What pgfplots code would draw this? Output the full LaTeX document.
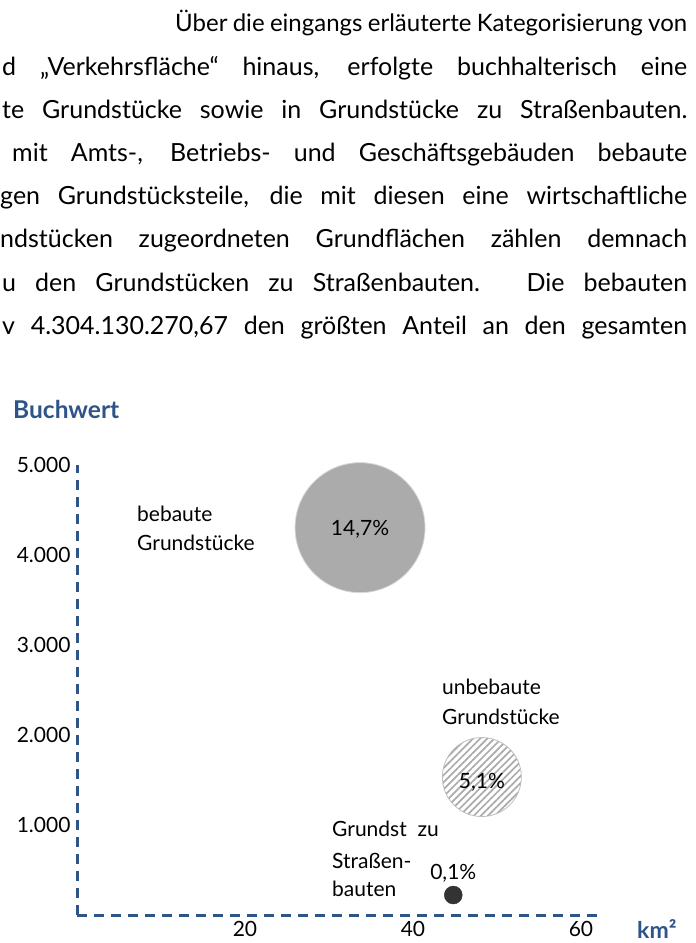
\documentclass[border=0pt]{standalone}
\usepackage{fontspec}
\setmainfont{Lato}
\usepackage{pgfplots}
\pgfplotsset{compat=1.18}
\usetikzlibrary{patterns.meta}
\definecolor{axblue}{HTML}{2E5488}
\definecolor{bubgray}{HTML}{ABABAB}
\definecolor{dotgray}{HTML}{333333}
\newcommand{\txt}{\fontsize{21}{24}\selectfont}
\newcommand{\body}{\fontsize{25}{29}\selectfont}

\begin{document}
\begin{tikzpicture}[x=1pt,y=1pt]
\useasboundingbox (0,0) rectangle (696,943);
% cropped paragraph above the chart
\begin{scope}
\clip (0,0) rectangle (696,943);
\tikzset{para/.style={anchor=base west, inner sep=0pt, font=\body}}
\node[para, font=\fontsize{24}{28}\selectfont] at (175,911) {\makebox[512pt][s]{Über die eingangs erläuterte Kategorisierung von}};
\node[para] at (2,867.8)   {\makebox[685pt][s]{d „Verkehrsfläche“ hinaus, erfolgte buchhalterisch eine}};
\node[para] at (2,824.6)   {\makebox[685pt][s]{te Grundstücke sowie in Grundstücke zu Straßenbauten.}};
\node[para] at (12,781.4)  {\makebox[675pt][s]{mit Amts-, Betriebs- und Geschäftsgebäuden bebaute}};
\node[para] at (0,738.2)   {\makebox[687pt][s]{gen Grundstücksteile, die mit diesen eine wirtschaftliche}};
\node[para] at (0,695)     {\makebox[687pt][s]{ndstücken zugeordneten Grundflächen zählen demnach}};
\node[para] at (2,651.8)   {\makebox[685pt][s]{u den Grundstücken zu Straßenbauten. Die bebauten}};
\node[para] at (2,608.6)   {\makebox[685pt][s]{v 4.304.130.270,67 den größten Anteil an den gesamten}};
\end{scope}

\begin{axis}[
  at={(77pt,28pt)}, anchor=origin,
  scale only axis, width=525.8pt, height=450pt,
  xmin=0, xmax=62.6, ymin=0, ymax=5000,
  axis lines=left,
  axis line style={draw=axblue, line width=3pt, dash pattern=on 10pt off 7pt, -},
  xtick={20,40,60}, ytick={1000,2000,3000,4000,5000},
  major tick length=0pt,
  scaled y ticks=false,
  /pgf/number format/assume math mode=true,
  /pgf/number format/1000 sep={.},
  tick label style={font=\txt, text=black},
  yticklabel style={anchor=east, xshift=-3pt},
  xticklabel style={anchor=north, yshift=-3pt},
  clip=false,
  every node near coord/.append style={font=\txt, text=black},
]
% bebaute Grundstuecke
\addplot[only marks, mark=*, mark size=65pt,
  mark options={fill=bubgray, draw=black!15, line width=0.8pt},
  nodes near coords={14,7\%},
  every node near coord/.append style={anchor=center, yshift=-2pt}]
  coordinates {(33.7,4304)};
% unbebaute Grundstuecke
\addplot[only marks, mark=*, mark size=39.5pt,
  mark options={draw=black!25, line width=0.8pt,
    pattern={Lines[angle=45,distance=5pt,line width=1.7pt]}, pattern color=black!33},
  nodes near coords={5,1\%},
  every node near coord/.append style={anchor=center, yshift=-5pt}]
  coordinates {(48.2,1533)};
% Grundstuecke zu Strassenbauten
\addplot[only marks, mark=*, mark size=9pt,
  mark options={fill=dotgray, draw=dotgray},
  nodes near coords={0,1\%},
  every node near coord/.append style={anchor=south, yshift=9pt}]
  coordinates {(44.8,222)};
\end{axis}

% axis titles
\node[anchor=base west, inner sep=0pt, font=\fontsize{24.5}{28}\selectfont\bfseries, text=axblue] at (13,524) {Buchwert};
\node[anchor=base west, inner sep=0pt, font=\fontsize{23}{26}\selectfont\bfseries, text=axblue] at (637,5) {km²};

% category labels
\tikzset{lab/.style={anchor=base west, inner sep=0pt, font=\txt}}
\node[lab] at (137,421) {bebaute};
\node[lab] at (137,392) {Grundstücke};
\node[lab] at (442,248) {unbebaute};
\node[lab] at (442,218) {Grundstücke};
\node[lab] at (332,106) {Grundst\ \ zu};
\node[lab] at (332,74)  {Straßen-};
\node[lab] at (332,46)  {bauten};
\end{tikzpicture}
\end{document}
